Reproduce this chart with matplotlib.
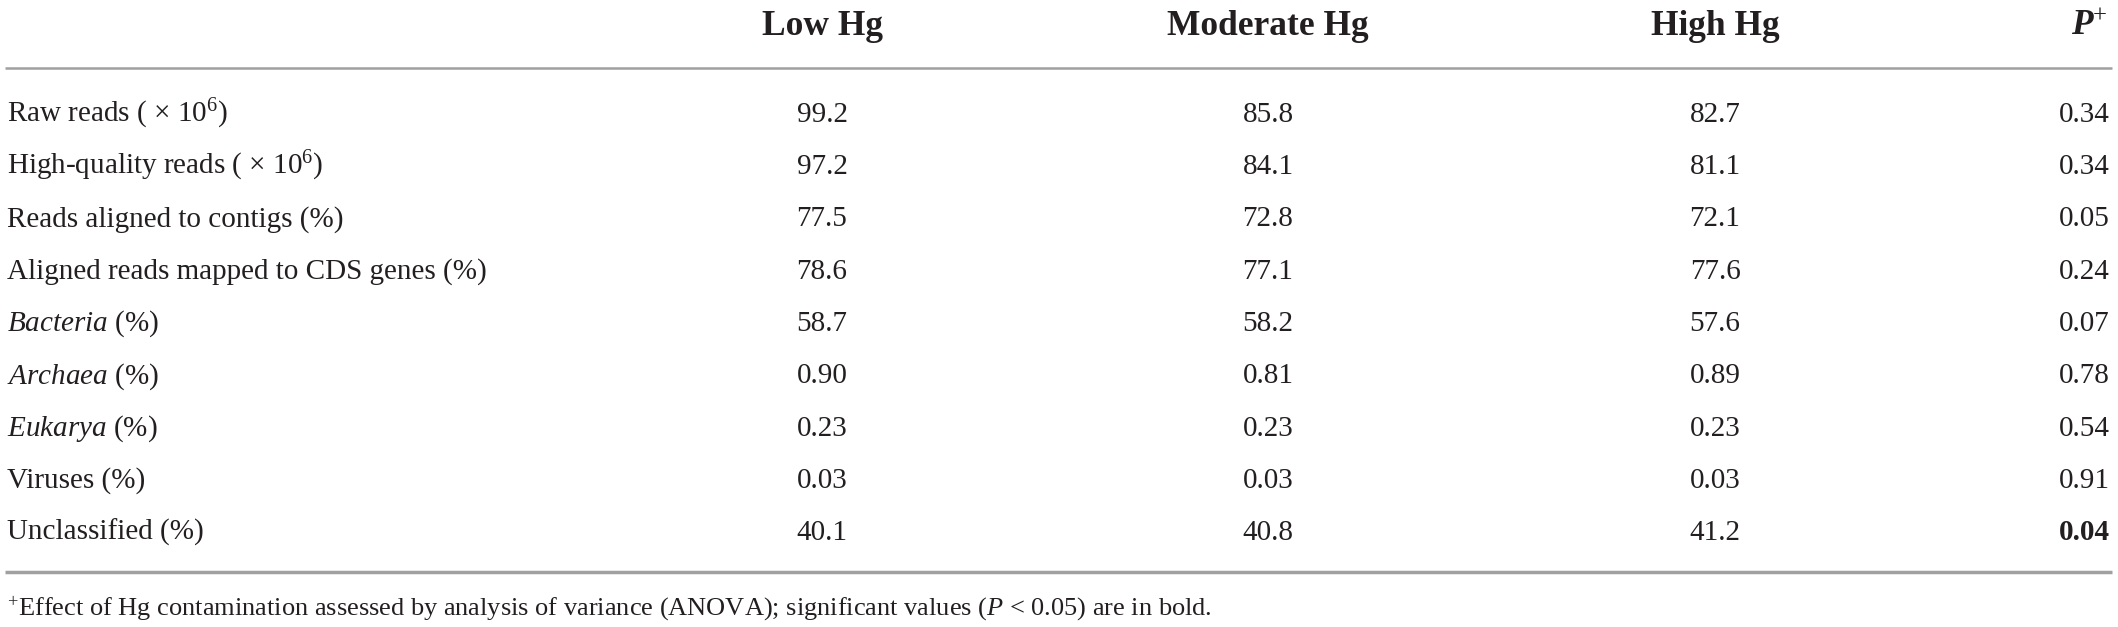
import matplotlib
matplotlib.use("Agg")
import matplotlib.pyplot as plt

# 表のデータ
columns = ["Low Hg", "Moderate Hg", "High Hg"]
row_labels = [
    r"Raw reads ( $\times$ 10$^{6}$)",
    r"High-quality reads ( $\times$ 10$^{6}$)",
    "Reads aligned to contigs (%)",
    "Aligned reads mapped to CDS genes (%)",
    r"$\mathit{Bacteria}$ (%)",
    r"$\mathit{Archaea}$ (%)",
    r"$\mathit{Eukarya}$ (%)",
    "Viruses (%)",
    "Unclassified (%)",
]
low_hg = ["99.2", "97.2", "77.5", "78.6", "58.7", "0.90", "0.23", "0.03", "40.1"]
moderate_hg = ["85.8", "84.1", "72.8", "77.1", "58.2", "0.81", "0.23", "0.03", "40.8"]
high_hg = ["82.7", "81.1", "72.1", "77.6", "57.6", "0.89", "0.23", "0.03", "41.2"]
p_values = ["0.34", "0.34", "0.05", "0.24", "0.07", "0.78", "0.54", "0.91", "0.04"]
significant = [False, False, False, False, False, False, False, False, True]
footnote = (r"$^{+}$Effect of Hg contamination assessed by analysis of variance (ANOVA); "
            r"significant values ($\mathit{P}$ < 0.05) are in bold.")

plt.rcParams["font.family"] = ["Liberation Serif", "DejaVu Serif"]
plt.rcParams["mathtext.fontset"] = "custom"
plt.rcParams["mathtext.rm"] = "Liberation Serif"
plt.rcParams["mathtext.it"] = "Liberation Serif:italic"
plt.rcParams["mathtext.bf"] = "Liberation Serif:bold"
plt.rcParams["mathtext.bfit"] = "Liberation Serif:bold:italic"

W, H = 2118, 627
fig = plt.figure(figsize=(W / 100, H / 100), dpi=100)
ax = fig.add_axes([0, 0, 1, 1])
ax.set_xlim(0, W)
ax.set_ylim(H, 0)
ax.axis("off")

text_color = "#231f20"
line_color = "#a0a0a0"
fs = 21
fs_head = 25.5
col_x = [822, 1268, 1715]
p_x = 2110
header_y = 35
row_y0, row_step = 122, 52.25

# ヘッダー
for x, name in zip(col_x, columns):
    ax.text(x, header_y, name, ha="center", va="baseline", fontsize=fs_head,
            fontweight="bold", color=text_color)
ax.text(p_x - 2, header_y, r"$\mathbfit{P}^{+}$", ha="right", va="baseline",
        fontsize=fs_head, color=text_color)

ax.plot([5, 2112], [68, 68], color=line_color, lw=1.8, solid_capstyle="butt")

# 各行
for i, label in enumerate(row_labels):
    y = row_y0 + i * row_step
    ax.text(7, y, label, ha="left", va="baseline", fontsize=fs, color=text_color)
    for x, vals in zip(col_x, [low_hg, moderate_hg, high_hg]):
        ax.text(x, y, vals[i], ha="center", va="baseline", fontsize=fs, color=text_color)
    ax.text(p_x, y, p_values[i], ha="right", va="baseline", fontsize=fs,
            fontweight="bold" if significant[i] else "normal", color=text_color)

ax.plot([5, 2112], [572, 572], color=line_color, lw=2.5, solid_capstyle="butt")

ax.text(7, 615, footnote, ha="left", va="baseline", fontsize=19, color=text_color)

fig.savefig("out.png", dpi=100)
